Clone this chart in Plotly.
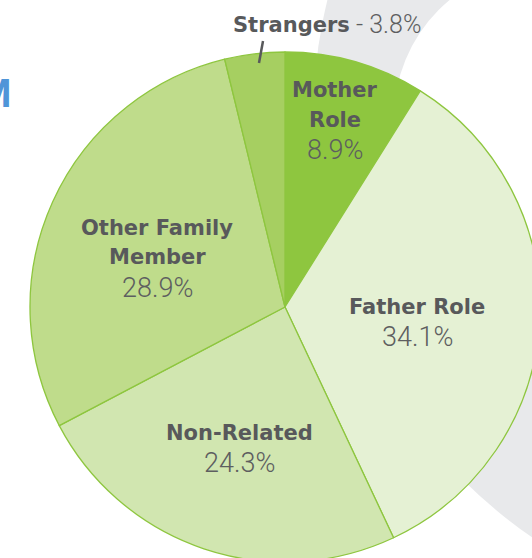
import plotly.graph_objects as go

# ---- data ----
labels = ["Mother Role", "Father Role", "Non-Related", "Other Family Member", "Strangers"]
values = [8.9, 34.1, 24.3, 28.9, 3.8]
label_lines = [["Mother", "Role"], ["Father Role"], ["Non-Related"], ["Other Family", "Member"], ["Strangers"]]
colors = ["#8ec63f", "#e5f1d4", "#d1e6b0", "#bfdc8b", "#a6cf61"]

# ---- layout helpers (pixel -> paper) ----
W, H = 545, 565
def px(x):
    return x / W
def py(y):
    return 1 - y / H

TXT = "#58595b"
BOLD_FONT = dict(family="DejaVu Sans", size=21, color=TXT, weight="bold")
PCT_FONT = dict(family="Roboto", size=27, color="#5d5e60", weight=300)

fig = go.Figure()
fig.add_trace(go.Pie(
    labels=labels,
    values=values,
    sort=False,
    direction="clockwise",
    rotation=0,
    textinfo="none",
    hoverinfo="label+percent",
    marker=dict(colors=colors, line=dict(color="#8ec63f", width=1.3)),
    domain=dict(x=[px(30), px(540)], y=[py(562), py(52)]),
    showlegend=False,
))

shapes = [
    # decorative grey crescent behind the pie
    dict(type="circle", xref="paper", yref="paper", layer="below",
         x0=px(820 - 507), x1=px(820 + 507), y0=py(120 + 507), y1=py(120 - 507),
         fillcolor="#e8e9eb", line=dict(width=0)),
    dict(type="circle", xref="paper", yref="paper", layer="below",
         x0=px(547 - 153), x1=px(547 + 153), y0=py(118 + 153), y1=py(118 - 153),
         fillcolor="#ffffff", line=dict(width=0)),
    # leader line for Strangers
    dict(type="line", xref="paper", yref="paper",
         x0=px(263), y0=py(41), x1=px(259), y1=py(63),
         line=dict(color=TXT, width=2.5)),
]

# label anchor positions (x centre, first line centre), pixel units
anchors = [(335, 90), (417, 307), (239, 433), (157, 227.5)]
GAP = 30

annotations = []
for i, (ax, ay) in enumerate(anchors):
    lines = label_lines[i]
    for j, t in enumerate(lines):
        annotations.append(dict(text=t, x=px(ax), y=py(ay + GAP * j), xref="paper", yref="paper",
                                showarrow=False, xanchor="center", yanchor="middle", font=BOLD_FONT))
    annotations.append(dict(text=f"{values[i]:.1f}%", x=px(ax), y=py(ay + GAP * len(lines)),
                            xref="paper", yref="paper", showarrow=False,
                            xanchor="center", yanchor="middle", font=PCT_FONT))

# Strangers (outside label)
annotations.append(dict(text=f"<b>{label_lines[4][0]}</b>", x=px(231), y=py(25), xref="paper", yref="paper",
                        showarrow=False, xanchor="left", yanchor="middle", font=BOLD_FONT))
annotations.append(dict(text=f"- {values[4]:.1f}%", x=px(354), y=py(25), xref="paper", yref="paper",
                        showarrow=False, xanchor="left", yanchor="middle",
                        font=dict(family="Roboto", size=25, color="#5d5e60", weight=300)))

# cut-off title letter at left edge
annotations.append(dict(text="<b>M</b>", x=px(13), y=py(94), xref="paper", yref="paper",
                        showarrow=False, xanchor="right", yanchor="middle",
                        font=dict(family="Roboto", size=38, color="#4f95d8")))

fig.update_layout(
    width=W, height=H,
    margin=dict(l=0, r=0, t=0, b=0),
    paper_bgcolor="#ffffff",
    plot_bgcolor="#ffffff",
    shapes=shapes,
    annotations=annotations,
)

fig.write_html(
    "out.html",
    config={"displayModeBar": False},
    post_script="document.body.style.margin='0';document.body.style.overflow='hidden';"
                "document.documentElement.style.overflow='hidden';",
)
